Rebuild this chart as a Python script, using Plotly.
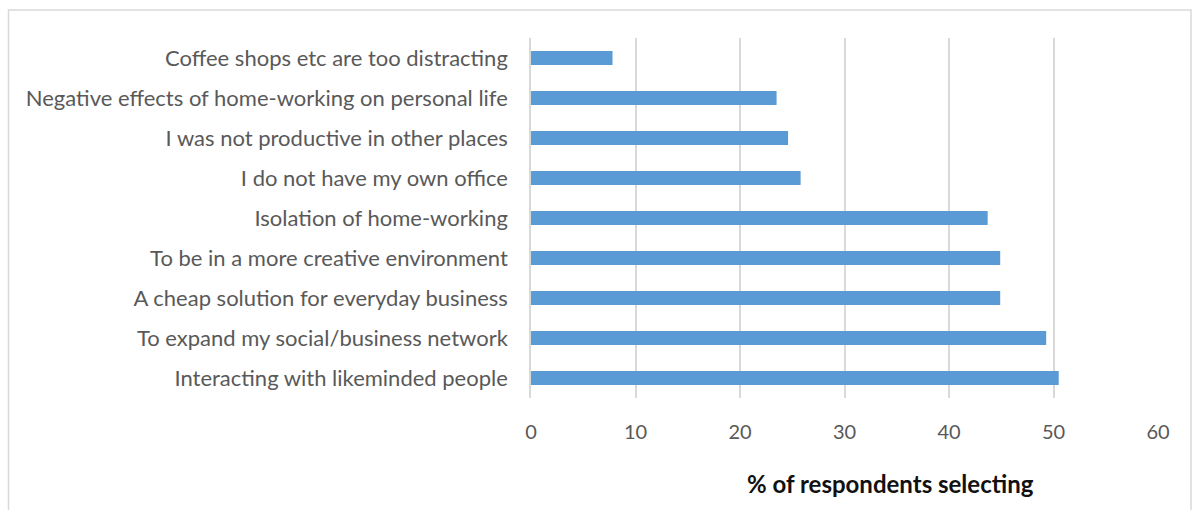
import plotly.graph_objects as go

categories = [
    "Coffee shops etc are too distracting",
    "Negative effects of home-working on personal life",
    "I was not productive in other places",
    "I do not have my own office",
    "Isolation of home-working",
    "To be in a more creative environment",
    "A cheap solution for everyday business",
    "To expand my social/business network",
    "Interacting with likeminded people",
]
values = [7.8, 23.5, 24.6, 25.8, 43.7, 44.9, 44.9, 49.3, 50.5]
x_ticks = [0, 10, 20, 30, 40, 50, 60]
x_title = "% of respondents selecting"

FONT = "Lato"
GRAY = "#595959"

fig = go.Figure(go.Bar(
    x=values, y=categories, orientation="h",
    marker=dict(color="#5B9BD5", line=dict(width=0)),
    width=0.35,
))

W, H = 1194, 510
L, R, T, B = 531, 36, 38, 112
pw, ph = W - L - R, H - T - B

def px_x(p):
    return (p - L) / pw

def px_y(p):
    return (H - B - p) / ph

fig.update_layout(
    width=W, height=H,
    margin=dict(l=L, r=R, t=T, b=B),
    paper_bgcolor="white", plot_bgcolor="white",
    showlegend=False,
    font=dict(family=FONT, color=GRAY, size=18),
    xaxis=dict(
        range=[0, 60], tickvals=x_ticks, showgrid=True,
        gridcolor="#d9d9d9", gridwidth=1.5, zeroline=False,
        showline=False, ticks="", ticklabelstandoff=20,
        tickfont=dict(family=FONT, size=20, color=GRAY),
    ),
    yaxis=dict(
        autorange="reversed", showgrid=False, zeroline=False,
        showline=True, linecolor="#d9d9d9", linewidth=1.5,
        ticks="", ticklabelstandoff=17,
        tickfont=dict(family=FONT, size=22, color=GRAY),
    ),
    annotations=[dict(
        text="<b>" + x_title + "</b>", xref="paper", yref="paper",
        x=px_x(890), y=px_y(483), showarrow=False,
        font=dict(family=FONT, size=24, color="#111111"),
        xanchor="center", yanchor="middle",
    )],
    shapes=[dict(
        type="rect", xref="paper", yref="paper",
        x0=px_x(8.5), x1=px_x(1191), y0=px_y(520), y1=px_y(10),
        line=dict(color="#d9d9d9", width=1.5), layer="below",
    )],
)

fig.write_html("out.html")
